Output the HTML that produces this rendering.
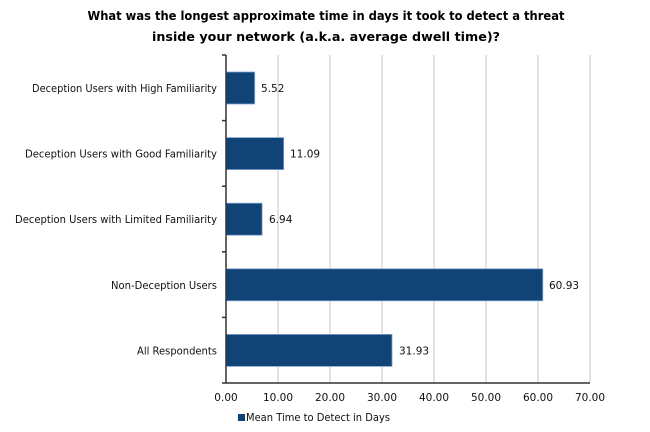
<!DOCTYPE html>
<html><head><meta charset="utf-8"><style>body{margin:0;background:#fff}svg{display:block}</style></head>
<body>
<svg width="650" height="432" xmlns="http://www.w3.org/2000/svg" font-family="DejaVu Sans, Verdana, sans-serif">
<text x="326" y="20" text-anchor="middle" font-size="12.5" font-weight="bold" textLength="477" lengthAdjust="spacingAndGlyphs">What was the longest approximate time in days it took to detect a threat</text>
<text x="326" y="41" text-anchor="middle" font-size="12.5" font-weight="bold" textLength="348" lengthAdjust="spacingAndGlyphs">inside your network (a.k.a. average dwell time)?</text>
<g stroke="#d9d9d9" stroke-width="1.5">
<line x1="278" y1="55" x2="278" y2="383"/><line x1="330" y1="55" x2="330" y2="383"/><line x1="382" y1="55" x2="382" y2="383"/><line x1="434" y1="55" x2="434" y2="383"/><line x1="486" y1="55" x2="486" y2="383"/><line x1="538" y1="55" x2="538" y2="383"/><line x1="590" y1="55" x2="590" y2="383"/>
</g>
<g fill="#104477" stroke="#7fa4cc" stroke-width="0.8">
<rect x="226" y="72" width="28.7" height="32"/>
<rect x="226" y="137.6" width="57.7" height="32"/>
<rect x="226" y="203.2" width="36.1" height="32"/>
<rect x="226" y="268.8" width="316.8" height="32"/>
<rect x="226" y="334.4" width="166" height="32"/>
</g>
<g stroke="#333" stroke-width="1.5">
<line x1="226" y1="55" x2="226" y2="383"/><line x1="226" y1="383" x2="590" y2="383"/>
<line x1="222" y1="55" x2="226" y2="55"/><line x1="222" y1="120.6" x2="226" y2="120.6"/><line x1="222" y1="186.2" x2="226" y2="186.2"/><line x1="222" y1="251.8" x2="226" y2="251.8"/><line x1="222" y1="317.4" x2="226" y2="317.4"/><line x1="222" y1="383" x2="226" y2="383"/>
</g>
<g font-size="10.5" fill="#111">
<text x="261" y="92">5.52</text>
<text x="290" y="157.6">11.09</text>
<text x="269" y="223.2">6.94</text>
<text x="549" y="288.8">60.93</text>
<text x="399" y="354.4">31.93</text>
</g>
<g font-size="10.5" fill="#111" text-anchor="end">
<text x="217" y="92" textLength="185" lengthAdjust="spacingAndGlyphs">Deception Users with High Familiarity</text>
<text x="217" y="157.6" textLength="192" lengthAdjust="spacingAndGlyphs">Deception Users with Good Familiarity</text>
<text x="217" y="223.2" textLength="202" lengthAdjust="spacingAndGlyphs">Deception Users with Limited Familiarity</text>
<text x="217" y="288.8" textLength="106" lengthAdjust="spacingAndGlyphs">Non-Deception Users</text>
<text x="217" y="354.4" textLength="80" lengthAdjust="spacingAndGlyphs">All Respondents</text>
</g>
<g font-size="10.5" fill="#111" text-anchor="middle">
<text x="226" y="401">0.00</text><text x="278" y="401">10.00</text><text x="330" y="401">20.00</text><text x="382" y="401">30.00</text><text x="434" y="401">40.00</text><text x="486" y="401">50.00</text><text x="538" y="401">60.00</text><text x="590" y="401">70.00</text>
</g>
<rect x="238" y="414" width="7" height="7" fill="#104477"/>
<text x="246" y="421" font-size="10.5" fill="#111" textLength="144" lengthAdjust="spacingAndGlyphs">Mean Time to Detect in Days</text>
</svg>
</body></html>
